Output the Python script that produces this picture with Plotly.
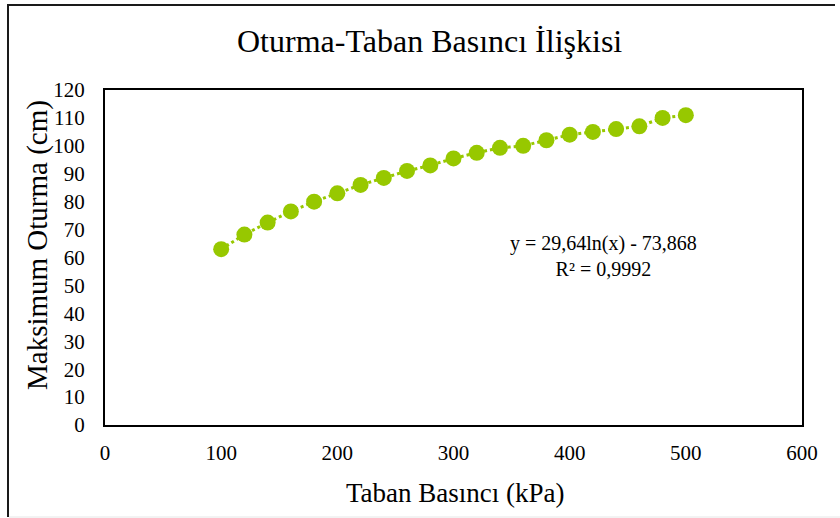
import plotly.graph_objects as go

# Data
pressure_kpa = [100, 120, 140, 160, 180, 200, 220, 240, 260, 280, 300,
                320, 340, 360, 380, 400, 420, 440, 460, 480, 500]
settlement_cm = [63.0, 68.2, 72.5, 76.5, 80.0, 83.0, 86.0, 88.5, 91.0, 93.0, 95.5,
                 97.5, 99.3, 100.0, 102.0, 104.0, 105.0, 106.0, 107.0, 110.0, 111.0]

x_ticks = [0, 100, 200, 300, 400, 500, 600]
y_ticks = [0, 10, 20, 30, 40, 50, 60, 70, 80, 90, 100, 110, 120]

title_text = "Oturma-Taban Basıncı İlişkisi"
x_title = "Taban Basıncı (kPa)"
y_title = "Maksimum Oturma (cm)"
equation_text = "y = 29,64ln(x) - 73,868<br>R² = 0,9992"

GREEN = "#97C800"
FONT = "Liberation Serif"

W, H = 840, 518
L, R, T, B = 105, 38, 90, 93
pw, ph = W - L - R, H - T - B

def px(xp):
    return (xp - L) / pw

def py(yp):
    return (H - B - yp) / ph

fig = go.Figure()
fig.add_trace(go.Scatter(
    x=pressure_kpa, y=settlement_cm, mode="lines+markers",
    line=dict(color=GREEN, width=3, dash="dot"),
    marker=dict(color=GREEN, size=16),
    showlegend=False, hoverinfo="x+y",
))

axis_common = dict(
    showline=True, linecolor="black", linewidth=2, mirror=True,
    showgrid=False, zeroline=False, ticks="",
    tickfont=dict(family=FONT, size=21, color="black"),
)

frame = [
    dict(type="line", xref="paper", yref="paper", x0=px(8), x1=px(8),
         y0=py(517), y1=py(4), line=dict(color="#1a1a1a", width=2)),
    dict(type="line", xref="paper", yref="paper", x0=px(7), x1=px(835),
         y0=py(5), y1=py(5), line=dict(color="#1a1a1a", width=2)),
    dict(type="line", xref="paper", yref="paper", x0=px(9), x1=px(840),
         y0=py(517), y1=py(517), line=dict(color="#e6e6e6", width=1)),
]

fig.update_layout(
    width=W, height=H,
    margin=dict(l=L, r=R, t=T, b=B),
    paper_bgcolor="white", plot_bgcolor="white",
    font=dict(family=FONT, color="black"),
    xaxis=dict(range=[0, 600], tickvals=x_ticks, ticklabelstandoff=8, **axis_common),
    yaxis=dict(range=[0, 120], tickvals=y_ticks, ticklabelstandoff=14, **axis_common),
    shapes=frame,
    annotations=[
        dict(text=title_text, xref="paper", yref="paper", x=px(429), y=py(41),
             xanchor="center", yanchor="middle", showarrow=False,
             font=dict(family=FONT, size=32, color="black")),
        dict(text=x_title, xref="paper", yref="paper", x=px(455), y=py(493),
             xanchor="center", yanchor="middle", showarrow=False,
             font=dict(family=FONT, size=27, color="black")),
        dict(text=y_title, xref="paper", yref="paper", x=px(37), y=py(245),
             xanchor="center", yanchor="middle", showarrow=False, textangle=-90,
             font=dict(family=FONT, size=29, color="black")),
        dict(text=equation_text, xref="paper", yref="paper", x=px(603), y=py(256),
             xanchor="center", yanchor="middle", showarrow=False, align="center",
             font=dict(family=FONT, size=20, color="black")),
    ],
)

fig.write_html("out.html", config={"displayModeBar": False},
               post_script="document.body.style.margin='0';document.body.style.overflow='hidden';")
